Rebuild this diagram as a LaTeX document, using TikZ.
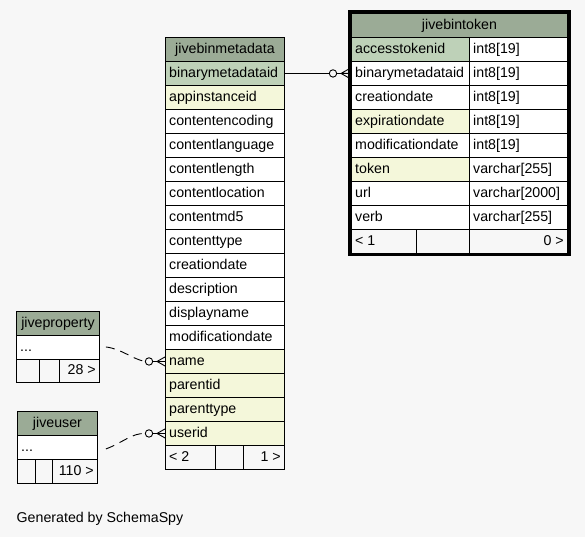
\documentclass[tikz,border=0pt]{standalone}
\usepackage{fontspec}
\setmainfont{Liberation Sans}
\definecolor{hdr}{HTML}{9BAB96}
\definecolor{pk}{HTML}{BED1B8}
\definecolor{idx}{HTML}{F4F7DA}
\definecolor{bg}{HTML}{F7F7F7}
\tikzset{
  box/.style={draw=black, line width=0.9pt, inner sep=0pt, anchor=north west, minimum height=24pt},
  txt/.style={inner sep=0pt, text height=10.4pt, text depth=3pt, font=\fontsize{14.2}{17}\selectfont},
  conn/.style={draw=black, line width=0.9pt},
  dashconn/.style={conn, dash pattern=on 9pt off 6pt},
}
% name, x, y, width, fill, text
\newcommand\cellL[6]{%
  \node[box, fill=#5, minimum width=#4pt] (#1) at (#2,#3) {};
  \node[txt, anchor=west] (#1-t) at ([xshift=4pt]#1.west) {#6};}
\newcommand\cellR[6]{%
  \node[box, fill=#5, minimum width=#4pt] (#1) at (#2,#3) {};
  \node[txt, anchor=east] (#1-t) at ([xshift=-4pt]#1.east) {#6};}
\newcommand\cellC[6]{%
  \node[box, fill=#5, minimum width=#4pt] (#1) at (#2,#3) {};
  \node[txt] (#1-t) at (#1.center) {#6};}
\newcommand\crowend[1]{%
  \draw[conn] ([xshift=-8pt]#1) -- ([yshift=4.5pt]#1)
              ([xshift=-8pt]#1) -- (#1)
              ([xshift=-8pt]#1) -- ([yshift=-4.5pt]#1);
  \draw[conn, fill=bg] ([xshift=-16pt]#1) circle[radius=3.7pt];}
\begin{document}
\begin{tikzpicture}[x=1pt,y=-1pt]
\fill[bg] (0,0) rectangle (585,537);
\useasboundingbox (0,0) rectangle (585,537);

% ---------------- jivebinmetadata ----------------
\cellC{md-h}{165}{37}{119}{hdr}{jivebinmetadata}
\foreach \n/\f [count=\i] in {binarymetadataid/pk, appinstanceid/idx,
  contentencoding/white, contentlanguage/white, contentlength/white,
  contentlocation/white, contentmd5/white, contenttype/white,
  creationdate/white, description/white, displayname/white,
  modificationdate/white, name/idx, parentid/idx, parenttype/idx, userid/idx}{
  \cellL{md-\n}{165}{37+24*\i}{119}{\f}{\n}
}
\cellL{md-f1}{165}{445}{50}{bg}{< 2}
\cellL{md-f2}{215}{445}{28}{bg}{}
\cellR{md-f3}{243}{445}{41}{bg}{1 >}

% ---------------- jivebintoken ----------------
\cellC{tok-h}{351}{13}{216}{hdr}{jivebintoken}
\foreach \n/\f/\ty [count=\i] in {accesstokenid/pk/int8[19],
  binarymetadataid/white/int8[19], creationdate/white/int8[19],
  expirationdate/idx/int8[19], modificationdate/white/int8[19],
  token/idx/varchar[255], url/white/varchar[2000], verb/white/varchar[255]}{
  \cellL{tok-\n}{351}{13+24*\i}{118}{\f}{\n}
  \cellL{tok-\n-type}{469}{13+24*\i}{98}{white}{\ty}
}
\cellL{tok-f1}{351}{229}{65}{bg}{< 1}
\cellL{tok-f2}{416}{229}{53}{bg}{}
\cellR{tok-f3}{469}{229}{98}{bg}{0 >}
\draw[line width=2.6pt] ([shift={(-1.3,-1.2)}]tok-h.north west) rectangle ([shift={(1.3,1.2)}]tok-f3.south east);

% ---------------- jiveproperty ----------------
\cellC{jp-h}{16}{311}{83}{hdr}{jiveproperty}
\cellL{jp-dots}{16}{335}{83}{white}{...}
\node[box, fill=bg, minimum width=23pt, minimum height=23pt] (jp-f1) at (16,359) {};
\node[box, fill=bg, minimum width=20pt, minimum height=23pt] (jp-f2) at (39,359) {};
\node[box, fill=bg, minimum width=40pt, minimum height=23pt] (jp-f3) at (59,359) {};
\node[txt, anchor=east] (jp-f3-t) at ([xshift=-4pt]jp-f3.east) {28 >};

% ---------------- jiveuser ----------------
\cellC{ju-h}{17}{411}{80}{hdr}{jiveuser}
\cellL{ju-dots}{17}{435}{80}{white}{...}
\cellL{ju-f1}{17}{459}{18}{bg}{}
\cellL{ju-f2}{35}{459}{17}{bg}{}
\cellR{ju-f3}{52}{459}{45}{bg}{110 >}

% ---------------- connectors ----------------
\coordinate (e1) at ([xshift=-2pt]tok-binarymetadataid.west);
\draw[conn] (md-binarymetadataid.east) -- (e1);
\crowend{e1}

\coordinate (s2) at ([xshift=6pt,yshift=0.5pt]jp-dots.east);
\coordinate (e2) at (md-name.west);
\draw[dashconn] (s2) .. controls (122,349) and (132,359) .. ([xshift=-20pt]e2);
\draw[conn] ([xshift=-20pt]e2) -- (e2);
\crowend{e2}

\coordinate (s3) at ([xshift=8pt,yshift=-1.5pt]ju-dots.east);
\coordinate (e3) at (md-userid.west);
\draw[dashconn] (s3) .. controls (122,443) and (132,433) .. ([xshift=-20pt]e3);
\draw[conn] ([xshift=-20pt]e3) -- (e3);
\crowend{e3}

\node[txt, anchor=base west] (credit) at (16.5,522.3) {Generated by SchemaSpy};
\end{tikzpicture}
\end{document}
